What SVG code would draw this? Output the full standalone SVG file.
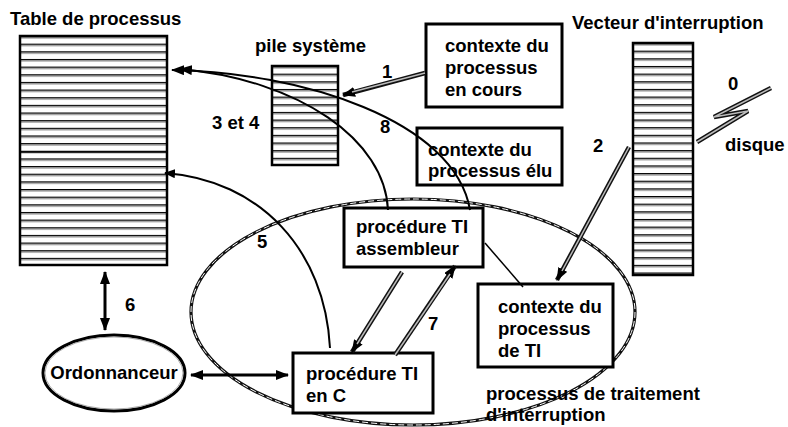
<svg xmlns="http://www.w3.org/2000/svg" width="788" height="427" viewBox="0 0 788 427">
  <style>
    text { font-family: "Liberation Sans", Arial, sans-serif; font-weight: bold; font-size: 18.5px; fill: #000; }
    .box { fill: #fff; stroke: #000; stroke-width: 3; }
    .frame { stroke: #000; stroke-width: 2.5; }
    .curve { fill: none; stroke: #000; stroke-width: 2; }
    .dbl { fill: none; stroke: #111; stroke-width: 4.5; }
    .dbl-in { fill: none; stroke: #bbb; stroke-width: 1.5; }
    .solid { fill: none; stroke: #000; stroke-width: 3; }
    .thin { fill: none; stroke: #000; stroke-width: 1.5; }
  </style>
  <defs>
    <!-- horizontal rows of the tables -->
    <pattern id="rowsTable" patternUnits="userSpaceOnUse" width="200" height="7.65" y="36">
      <rect width="200" height="7.65" fill="#fff"/>
      <rect y="0" width="200" height="1.3" fill="#000"/>
      <rect y="1.3" width="200" height="1.2" fill="#8a8a8a"/>
    </pattern>
    <pattern id="rowsPile" patternUnits="userSpaceOnUse" width="200" height="7.65" y="66">
      <rect width="200" height="7.65" fill="#fff"/>
      <rect y="0" width="200" height="1.3" fill="#000"/>
      <rect y="1.3" width="200" height="1.2" fill="#8a8a8a"/>
    </pattern>
    <pattern id="rowsVec" patternUnits="userSpaceOnUse" width="200" height="7.65" y="43">
      <rect width="200" height="7.65" fill="#fff"/>
      <rect y="0" width="200" height="1.3" fill="#000"/>
      <rect y="1.3" width="200" height="1.2" fill="#8a8a8a"/>
    </pattern>
    <marker id="head" markerUnits="userSpaceOnUse" markerWidth="14" markerHeight="10" refX="12" refY="5" orient="auto">
      <path d="M0,0 L13,5 L0,10 z" fill="#000"/>
    </marker>
    <marker id="headS" markerUnits="userSpaceOnUse" markerWidth="12" markerHeight="9" refX="10" refY="4.5" orient="auto">
      <path d="M0,0 L11,4.5 L0,9 z" fill="#000"/>
    </marker>
    <marker id="headStart" markerUnits="userSpaceOnUse" markerWidth="14" markerHeight="10" refX="1" refY="5" orient="auto">
      <path d="M13,0 L0,5 L13,10 z" fill="#000"/>
    </marker>
  </defs>

  <!-- interrupt handling process region -->
  <g id="processus-ti">
    <ellipse cx="413" cy="312" rx="222" ry="113" fill="none" stroke="#111" stroke-width="3.2"/>
    <ellipse cx="413" cy="312" rx="222" ry="113" fill="none" stroke="#fff" stroke-width="1" stroke-dasharray="6 3"/>
    <text x="486" y="400">processus de traitement</text>
    <text x="486" y="421">d'interruption</text>
  </g>

  <g id="table-processus">
    <text x="10" y="25">Table de processus</text>
    <rect x="20" y="36" width="147" height="229" fill="url(#rowsTable)" class="frame"/>
    <line x1="20" y1="152" x2="167" y2="152" stroke="#000" stroke-width="1.6"/>
  </g>

  <g id="pile-systeme">
    <text x="255" y="52">pile système</text>
    <rect x="272" y="66" width="66" height="99" fill="url(#rowsPile)" class="frame" stroke-width="2"/>
  </g>

  <g id="vecteur-interruption">
    <text x="572" y="29">Vecteur d'interruption</text>
    <rect x="633" y="43" width="60" height="232" fill="url(#rowsVec)" class="frame"/>
  </g>

  <g id="disque">
    <text x="728" y="90">0</text>
    <text x="725" y="151">disque</text>
    <polyline points="697,142 748,111 714,117 771,88" fill="none" stroke="#111" stroke-width="4.5" stroke-linejoin="bevel"/>
    <polyline points="697,142 748,111 714,117 771,88" fill="none" stroke="#bbb" stroke-width="1.5" stroke-linejoin="bevel"/>
  </g>

  <g id="contexte-en-cours">
    <rect x="426" y="24" width="136" height="83" class="box"/>
    <text x="445" y="52">contexte du</text>
    <text x="445" y="74">processus</text>
    <text x="445" y="96">en cours</text>
  </g>

  <g id="contexte-elu">
    <rect x="417" y="128" width="145" height="57" class="box"/>
    <text x="428" y="156">contexte du</text>
    <text x="428" y="177">processus élu</text>
  </g>

  <g id="procedure-ti-assembleur">
    <rect x="344" y="208" width="139" height="59" class="box"/>
    <text x="356" y="233">procédure TI</text>
    <text x="356" y="255">assembleur</text>
  </g>

  <g id="contexte-ti">
    <rect x="478" y="284" width="135" height="83" class="box"/>
    <text x="498" y="313">contexte du</text>
    <text x="498" y="335">processus</text>
    <text x="498" y="357">de TI</text>
  </g>

  <g id="procedure-ti-c">
    <rect x="293" y="353" width="140" height="60" class="box"/>
    <text x="306" y="380">procédure TI</text>
    <text x="306" y="402">en C</text>
  </g>

  <g id="ordonnanceur">
    <ellipse cx="114" cy="373" rx="71" ry="38" fill="#fff" stroke="#000" stroke-width="3"/>
    <ellipse cx="114" cy="373" rx="69" ry="36" fill="none" stroke="#999" stroke-width="0.8"/>
    <text x="114" y="379" text-anchor="middle">Ordonnanceur</text>
  </g>

  <g id="connecteurs">
    <!-- 8: saved context back to the process table -->
    <path d="M470,210 C455,120 300,72 172,70" class="curve" marker-end="url(#head)"/>
    <!-- 3 et 4: stack to the process table -->
    <path d="M388,210 C385,140 300,80 180,69" class="curve" marker-end="url(#head)"/>
    <!-- 5: C routine to the process table -->
    <path d="M330,348 C325,250 260,180 165,173" class="curve" marker-end="url(#headS)"/>

    <!-- 1: current context pushed on the stack -->
    <path d="M425,73 L343,95" class="dbl" marker-end="url(#head)"/>
    <path d="M425,73 L352,92" class="dbl-in"/>
    <!-- 2: vector to the interrupt routine -->
    <path d="M629,147 L557,280" class="dbl" marker-end="url(#head)"/>
    <path d="M629,147 L562,271" class="dbl-in"/>
    <!-- assembler routine calls the C routine -->
    <path d="M402,272 L352,352" class="dbl" marker-end="url(#head)"/>
    <path d="M402,272 L357,344" class="dbl-in"/>
    <!-- 7: return to the assembler routine -->
    <path d="M395,355 L455,266" class="dbl" marker-end="url(#head)"/>
    <path d="M395,355 L450,274" class="dbl-in"/>

    <!-- link assembler routine / TI context -->
    <path d="M485,243 L523,287" class="thin"/>

    <!-- 6: table and scheduler -->
    <path d="M105,272 L105,330" class="solid" marker-start="url(#headStart)" marker-end="url(#head)"/>
    <!-- scheduler and C routine -->
    <path d="M191,375 L288,375" class="solid" marker-start="url(#headStart)" marker-end="url(#head)"/>

    <text x="382" y="78">1</text>
    <text x="593" y="152">2</text>
    <text x="212" y="129">3 et 4</text>
    <text x="257" y="248">5</text>
    <text x="125" y="311">6</text>
    <text x="428" y="330">7</text>
    <text x="380" y="133">8</text>
  </g>
</svg>
